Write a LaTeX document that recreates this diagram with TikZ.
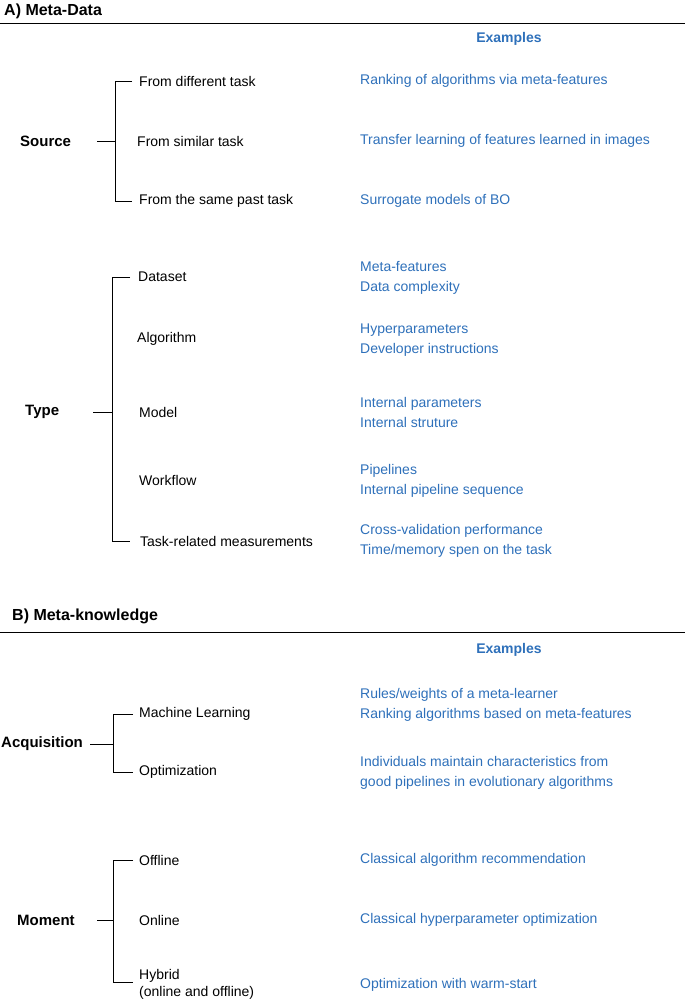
\documentclass[tikz,border=0pt]{standalone}
\usepackage{fontspec}
\setmainfont{Liberation Sans}
\definecolor{exblue}{RGB}{46,112,186}
\begin{document}
\begin{tikzpicture}[x=1pt,y=-1pt,
  lab/.style={anchor=west,inner sep=0pt,font=\fontsize{14}{17}\selectfont},
  ex/.style={anchor=west,inner sep=0pt,font=\fontsize{14}{20}\selectfont,text=exblue,align=left},
  hd/.style={anchor=west,inner sep=0pt,font=\fontsize{15}{18}\selectfont\bfseries},
  sec/.style={anchor=west,inner sep=0pt,font=\fontsize{16}{19}\selectfont\bfseries},
  br/.style={line width=0.8pt}]
\useasboundingbox (0,0) rectangle (685,1004);
% A
\node[sec] (ta) at (4,11) {A) Meta-Data};
\coordinate (la1) at (0,23); \coordinate (la2) at (685,23);
\draw[line width=0.8pt] (la1) -- (la2);
\node[anchor=center,inner sep=0pt,font=\fontsize{14}{17}\selectfont\bfseries,text=exblue] (exa) at (509,39) {Examples};
% Source
\node[hd] (src) at (20,141) {Source};
\coordinate (s0) at (97,141); \coordinate (s1) at (115,141);
\coordinate (st) at (115,81); \coordinate (sb) at (115,201);
\coordinate (stt) at (132,81); \coordinate (sbb) at (132,201);
\draw[br] (s0) -- (s1); \draw[br] (stt) -- (st) -- (sb) -- (sbb);
\node[lab] (s_a) at (139,81) {From different task};
\node[lab] (s_b) at (137,141) {From similar task};
\node[lab] (s_c) at (139,201) {From the same past task};
\node[ex] (e1) at (360,81) {Ranking of algorithms via meta-features};
\node[ex] (e2) at (360,141) {Transfer learning of features learned in images};
\node[ex] (e3) at (360,201) {Surrogate models of BO};
% Type
\node[hd] (typ) at (25,412) {Type};
\coordinate (t0) at (93,412); \coordinate (t1) at (112,412);
\coordinate (tt) at (112,277); \coordinate (tb) at (112,541);
\coordinate (ttt) at (130,277); \coordinate (tbb) at (130,541);
\draw[br] (t0) -- (t1); \draw[br] (ttt) -- (tt) -- (tb) -- (tbb);
\node[lab] (t_a) at (138,277) {Dataset};
\node[lab] (t_b) at (137,339) {Algorithm};
\node[lab] (t_c) at (139,412) {Model};
\node[lab] (t_d) at (139,480) {Workflow};
\node[lab] (t_e) at (140,541) {Task-related measurements};
\node[ex] (e4) at (360,278) {Meta-features\\Data complexity};
\node[ex] (e5) at (360,340) {Hyperparameters\\Developer instructions};
\node[ex] (e6) at (360,412) {Internal parameters\\Internal struture};
\node[ex] (e7) at (360,481) {Pipelines\\Internal pipeline sequence};
\node[ex] (e8) at (360,541) {Cross-validation performance\\Time/memory spen on the task};
% B
\node[sec] (tb2) at (12,616) {B) Meta-knowledge};
\coordinate (lb1) at (0,632); \coordinate (lb2) at (685,632);
\draw[line width=0.8pt] (lb1) -- (lb2);
\node[anchor=center,inner sep=0pt,font=\fontsize{14}{17}\selectfont\bfseries,text=exblue] (exb) at (509,650) {Examples};
% Acquisition
\node[hd] (acq) at (1,744) {Acquisition};
\coordinate (a0) at (90,744); \coordinate (a1) at (113,744);
\coordinate (at) at (113,714); \coordinate (ab) at (113,772);
\coordinate (att) at (133,714); \coordinate (abb) at (133,772);
\draw[br] (a0) -- (a1); \draw[br] (att) -- (at) -- (ab) -- (abb);
\node[lab] (a_a) at (139,714) {Machine Learning};
\node[lab] (a_b) at (139,772) {Optimization};
\node[ex] (e9) at (360,705) {Rules/weights of a meta-learner\\Ranking algorithms based on meta-features};
\node[ex] (e10) at (360,773) {Individuals maintain characteristics from\\good pipelines in evolutionary algorithms};
% Moment
\node[hd] (mom) at (17,920) {Moment};
\coordinate (m0) at (97,920); \coordinate (m1) at (113,920);
\coordinate (mt) at (113,860); \coordinate (mb) at (113,982);
\coordinate (mtt) at (133,860); \coordinate (mbb) at (133,982);
\draw[br] (m0) -- (m1); \draw[br] (mtt) -- (mt) -- (mb) -- (mbb);
\node[lab] (m_a) at (139,860) {Offline};
\node[lab] (m_b) at (139,920) {Online};
\node[lab,align=left] (m_c) at (139,984) {Hybrid\\(online and offline)};
\node[ex] (e11) at (360,860) {Classical algorithm recommendation};
\node[ex] (e12) at (360,920) {Classical hyperparameter optimization};
\node[ex] (e13) at (360,985) {Optimization with warm-start};
\end{tikzpicture}
\end{document}
